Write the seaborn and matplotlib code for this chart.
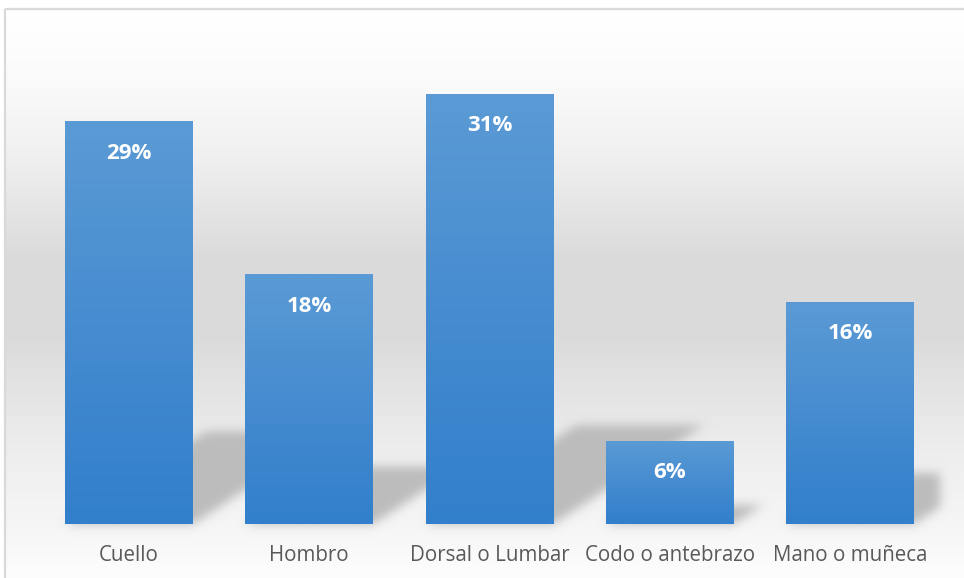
import numpy as np
import pandas as pd
import matplotlib
matplotlib.use("Agg")
import matplotlib.pyplot as plt
from matplotlib.patches import Polygon, Rectangle
import seaborn as sns

categories = ["Cuello", "Hombro", "Dorsal o Lumbar", "Codo o antebrazo", "Mano o muñeca"]
values = [0.29, 0.18, 0.31, 0.06, 0.16]
labels = ["29%", "18%", "31%", "6%", "16%"]

sns.set_theme(style="white")
plt.rcParams["font.family"] = ["Open Sans", "DejaVu Sans"]

W, H = 964, 578
fig = plt.figure(figsize=(W / 100, H / 100), dpi=100)
fig.patch.set_facecolor("white")

# background panel with vertical grey gradient and light frame
bg = fig.add_axes([0, 0, 1, 1], zorder=0)
bg.set_xlim(0, W)
bg.set_ylim(H, 0)
bg.axis("off")
ys = np.arange(0, H + 1)
stops_y = [9, 80, 155, 250, 330, 400, 470, 520, 578]
stops_v = [255, 250, 239, 219, 218, 230, 240, 245, 253]
g = np.interp(ys, stops_y, stops_v) / 255.0
grad = np.repeat(g[:, None, None], 3, axis=2)
bg.imshow(grad, extent=[5, W + 10, H, 9], aspect="auto", interpolation="bilinear")
bg.add_patch(Rectangle((5, 9), W + 20, H + 20, fill=False, ec="#d9d9d9", lw=1.6))
bg.set_xlim(0, W)
bg.set_ylim(H, 0)

# main axes
ax = fig.add_axes([39 / W, 1 - 524 / H, 901 / W, 486 / H], zorder=1)
ax.patch.set_alpha(0)
df = pd.DataFrame({"cat": categories, "val": values})
sns.barplot(data=df, x="cat", y="val", color="#5b9bd5", width=0.71, ax=ax,
            saturation=1, zorder=3, linewidth=0, edgecolor="none")
ax.set_xlim(-0.5, len(categories) - 0.5)
ax.set_ylim(0, 0.35)
for s in ax.spines.values():
    s.set_visible(False)
ax.set_yticks([])
ax.set_xlabel("")
ax.set_ylabel("")
ax.tick_params(axis="x", length=0, pad=15, labelsize=14.8, labelcolor="#595959")

# gaussian blur filter for shadows
def make_blur(sigma, color):
    def f(im, dpi):
        pad = int(3 * sigma)
        a = np.pad(im[..., 3], ((pad, pad), (pad, pad)), mode="constant")
        x = np.arange(-pad, pad + 1)
        k = np.exp(-x ** 2 / (2.0 * sigma ** 2))
        k /= k.sum()
        o = np.zeros_like(a)
        for i, kv in enumerate(k):
            o += kv * np.roll(a, i - pad, axis=1)
        o2 = np.zeros_like(a)
        for i, kv in enumerate(k):
            o2 += kv * np.roll(o, i - pad, axis=0)
        out = np.zeros((a.shape[0], a.shape[1], 4), dtype=im.dtype)
        out[..., 0] = color[0]
        out[..., 1] = color[1]
        out[..., 2] = color[2]
        out[..., 3] = o2
        return out, -pad, -pad
    return f

shadow_rgb = (0.74, 0.74, 0.74)
top_c = np.array([91, 155, 213]) / 255.0
mid_c = np.array([70, 140, 208]) / 255.0
bot_c = np.array([50, 127, 203]) / 255.0

bars = list(ax.patches)
T = ax.transData
inv = T.inverted()
for p in bars:
    x0 = p.get_x()
    w = p.get_width()
    h = p.get_height()
    X0, Y0 = T.transform((x0, 0))
    X1, _ = T.transform((x0 + w, 0))
    _, Yt = T.transform((x0, h))
    hp = Yt - Y0
    pts_disp = np.array([[X0, Y0], [X1, Y0],
                         [X1 + 0.35 * hp, Y0 + 0.23 * hp],
                         [X0 + 0.35 * hp, Y0 + 0.23 * hp]])
    pts = inv.transform(pts_disp)
    sh = Polygon(pts, closed=True, fc=shadow_rgb, ec="none", zorder=1)
    sh.set_agg_filter(make_blur(5.0, shadow_rgb))
    ax.add_patch(sh)

    # vertical gradient fill of the bar
    t = np.linspace(0, 1, 200)
    cols = np.where(t[:, None] < 0.5,
                    top_c + (mid_c - top_c) * (t[:, None] / 0.5),
                    mid_c + (bot_c - mid_c) * ((t[:, None] - 0.5) / 0.5))
    img = cols[:, None, :]
    im = ax.imshow(img, extent=[x0, x0 + w, 0, h], aspect="auto",
                   interpolation="bilinear", zorder=4, origin="upper")
    im.set_clip_path(p)

ax.set_xlim(-0.5, len(categories) - 0.5)
ax.set_ylim(0, 0.35)

for i, (v, lab) in enumerate(zip(values, labels)):
    ax.annotate(lab, xy=(i, v), xytext=(0, -23), textcoords="offset points",
                ha="center", va="center", color="white", fontsize=16,
                fontweight="bold", zorder=6)

fig.savefig("out.png", dpi=100)
